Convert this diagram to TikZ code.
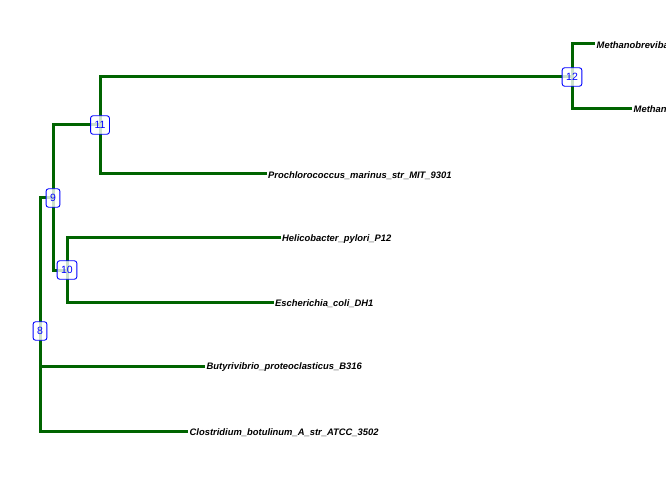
\documentclass[tikz,border=0pt]{standalone}
\usepackage{fontspec}
\setmainfont{Liberation Sans}
\usetikzlibrary{backgrounds}
\definecolor{branch}{HTML}{006400}
\definecolor{boxblue}{HTML}{0000FF}
\begin{document}
\begin{tikzpicture}[x=1bp,y=-1bp,
  inode/.style={draw=boxblue, line width=0.9bp, rounded corners=2.5bp, fill=white, fill opacity=0.8, text opacity=1,
    text=boxblue, font=\fontsize{10.5bp}{12bp}\selectfont, inner xsep=4bp, inner ysep=0bp, minimum height=18.5bp},
  tip/.style={anchor=west, inner xsep=1.5bp, inner ysep=1bp, yshift=-1.5bp, font=\fontsize{9.4bp}{11bp}\selectfont\bfseries\itshape, text=black},
  edge/.style={draw=branch, line width=3bp}]
\useasboundingbox (0,0) rectangle (672,480);
\begin{scope}[on background layer]
  \fill[white] (0,0) rectangle (672,480);
\end{scope}
\clip (0,0) rectangle (665,480);
% internal nodes
\node[inode] (n8)  at (40,331)  {8};
\node[inode] (n9)  at (53,198)  {9};
\node[inode] (n10) at (67,270)  {10};
\node[inode] (n11) at (100,125) {11};
\node[inode] (n12) at (572,77)  {12};
% tip ends
\coordinate (c1) at (595,44);
\coordinate (c2) at (632,109);
\coordinate (c3) at (266.5,174);
\coordinate (c4) at (280.5,238);
\coordinate (c5) at (273.5,302);
\coordinate (c6) at (205,366);
\coordinate (c7) at (188,431);
% tip labels
\node[tip] (t1) at (c1) {Methanobrevibacter\_smithii\_ATCC\_35061};
\node[tip] (t2) at (c2) {Methanosphaera\_stadtmanae\_DSM\_3091};
\node[tip] (t3) at (c3) {Prochlorococcus\_marinus\_str\_MIT\_9301};
\node[tip] (t4) at (c4) {Helicobacter\_pylori\_P12};
\node[tip] (t5) at (c5) {Escherichia\_coli\_DH1};
\node[tip] (t6) at (c6) {Butyrivibrio\_proteoclasticus\_B316};
\node[tip] (t7) at (c7) {Clostridium\_botulinum\_A\_str\_ATCC\_3502};
\begin{scope}[on background layer]
  \draw[edge] (n8.center) |- (n9.center);
  \draw[edge] (n8.center) |- (c6);
  \draw[edge] (n8.center) |- (c7);
  \draw[edge] (n9.center) |- (n11.center);
  \draw[edge] (n9.center) |- (n10.center);
  \draw[edge] (n11.center) |- (n12.center);
  \draw[edge] (n11.center) |- (c3);
  \draw[edge] (n10.center) |- (c4);
  \draw[edge] (n10.center) |- (c5);
  \draw[edge] (n12.center) |- (c1);
  \draw[edge] (n12.center) |- (c2);
\end{scope}
\end{tikzpicture}
\end{document}
